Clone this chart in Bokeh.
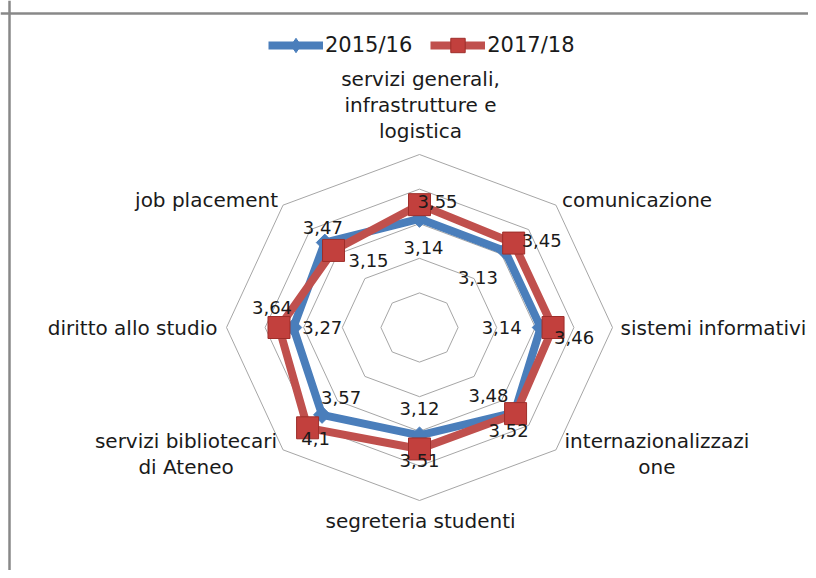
import numpy as np
from bokeh.plotting import figure
from bokeh.models import ColumnDataSource, Legend, LegendItem, Range1d, Span
from bokeh.core.properties import value
from bokeh.embed import file_html
from bokeh.resources import INLINE

# ---------------- data ----------------
categories = [
    "servizi generali,\ninfrastrutture e\nlogistica",
    "comunicazione",
    "sistemi informativi",
    "internazionalizzazi\none",
    "segreteria studenti",
    "servizi bibliotecari\ndi Ateneo",
    "diritto allo studio",
    "job placement",
]
series_names = ["2015/16", "2017/18"]
values_2015_16 = [3.14, 3.13, 3.14, 3.48, 3.12, 3.57, 3.27, 3.47]
values_2017_18 = [3.55, 3.45, 3.46, 3.52, 3.51, 4.10, 3.64, 3.15]
grid_levels = [1, 2, 3, 4, 5]

# ---------------- layout / style ----------------
FONT = "DejaVu Sans"
W, H = 808, 570
SX, SY = 38.6, 34.6          # px per value unit (horizontal / vertical)
CX, CY = 419, 327            # centre of radar inside the frame (px)
x0 = -CX / SX
y1 = CY / SY
xr = Range1d(x0, x0 + W / SX)
yr = Range1d(y1 - H / SY, y1)

BLUE = "#4A7EBB"
RED = "#C0504D"

n = len(categories)
ang = np.arange(n) * 2 * np.pi / n


def polar(vals):
    v = np.asarray(vals, dtype=float)
    return v * np.sin(ang), v * np.cos(ang)


p = figure(width=W, height=H, x_range=xr, y_range=yr, output_backend="svg",
           toolbar_location=None, x_axis_location=None, y_axis_location=None,
           min_border=0, min_border_left=0, min_border_right=0,
           min_border_top=0, min_border_bottom=0, outline_line_color=None)
p.xgrid.visible = False
p.ygrid.visible = False

# border of the chart area (left and top edges visible)
p.add_layout(Span(location=x0 + 9 / SX, dimension="height",
                  line_color="#888888", line_width=2.5))
p.add_layout(Span(location=y1 - 13 / SY, dimension="width",
                  line_color="#888888", line_width=2.5))

# grid octagons
gx, gy = [], []
for lv in grid_levels:
    x, y = polar([lv] * n)
    gx.append(list(x) + [x[0]])
    gy.append(list(y) + [y[0]])
p.multi_line(gx, gy, line_color="#A6A6A6", line_width=1)

# series
bx, by = polar(values_2015_16)
rx, ry = polar(values_2017_18)
bl = p.line(list(bx) + [bx[0]], list(by) + [by[0]], line_color=BLUE, line_width=8,
            line_join="round")
# diamond glyph used for the legend (hidden under the rotated squares)
bm_leg = p.scatter(bx, by, marker="diamond", size=14, fill_color=BLUE, line_color=BLUE)
p.scatter(bx, by, marker="square", angle=np.pi / 4, size=12,
          fill_color=BLUE, line_color=BLUE)
rl = p.line(list(rx) + [rx[0]], list(ry) + [ry[0]], line_color=RED, line_width=8,
            line_join="round")
rm = p.scatter(rx, ry, marker="square", size=22, fill_color="#C2403D",
               line_color="#9E2E2A", line_width=1)

# data labels (pixel offsets from each point)
blue_off = [(4, 29), (-27, 27), (-39, 0), (-26, -17), (0, -27), (19, -17), (29, 0), (-2, -15)]
red_off = [(18, -3), (28, -3), (21, 10), (-7, 17), (0, 12), (8, 11), (-7, -20), (35, 10)]


def fmt(v):
    return f"{v:g}".replace(".", ",")


for (xs, ys, vals, offs) in [(bx, by, values_2015_16, blue_off),
                             (rx, ry, values_2017_18, red_off)]:
    src = ColumnDataSource(dict(x=xs, y=ys, t=[fmt(v) for v in vals],
                                dx=[o[0] for o in offs], dy=[o[1] for o in offs]))
    p.text("x", "y", text="t", x_offset="dx", y_offset="dy", source=src,
           text_font=value(FONT), text_font_size="18px", text_color="#1A1A1A",
           text_align="center", text_baseline="middle")

# category labels, anchored at outer vertex
cat_pos = [("center", 1, -76), ("left", 6, -5), ("left", 8, 0), ("center", 101, -9),
           ("center", 1, 20), ("center", -97, -9), ("right", -9, 0), ("right", -5, -5)]
ox, oy = polar([grid_levels[-1]] * n)
LINE = 26
for i, name in enumerate(categories):
    al, dx, dy = cat_pos[i]
    lines = name.split("\n")
    src = ColumnDataSource(dict(x=[ox[i]] * len(lines), y=[oy[i]] * len(lines), t=lines,
                                dx=[dx] * len(lines),
                                dy=[dy + k * LINE for k in range(len(lines))]))
    p.text("x", "y", text="t", x_offset="dx", y_offset="dy", source=src,
           text_font=value(FONT), text_font_size="20px", text_color="#1A1A1A",
           text_align=al, text_baseline="middle")

legend = Legend(items=[LegendItem(label=series_names[0], renderers=[bl, bm_leg]),
                       LegendItem(label=series_names[1], renderers=[rl, rm])],
                orientation="horizontal", location=(268, 507),
                glyph_width=55, glyph_height=36, label_standoff=2, spacing=18,
                padding=0, margin=0, border_line_alpha=0, background_fill_alpha=0,
                label_text_font=FONT, label_text_font_size="21px",
                label_text_color="#1A1A1A")
p.add_layout(legend, "center")

open("out.html", "w").write(file_html(p, INLINE))
